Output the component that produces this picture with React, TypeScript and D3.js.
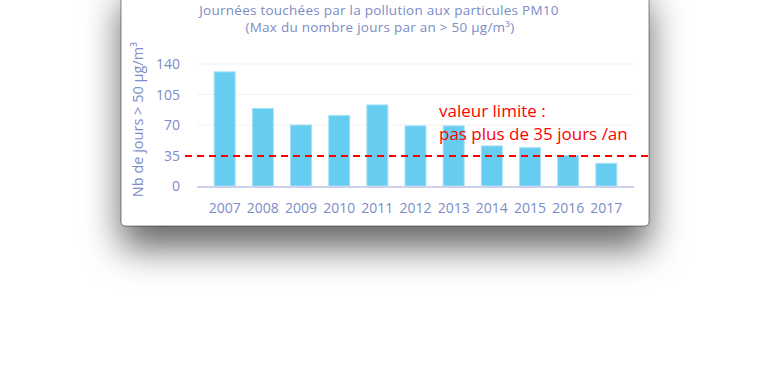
import React, { useEffect, useRef } from 'react';
import * as d3 from 'd3';

const years = ['2007', '2008', '2009', '2010', '2011', '2012', '2013', '2014', '2015', '2016', '2017'];
const days = [131, 89, 70, 81, 93, 69, 69, 46, 44, 35, 26];
const yTicks = [0, 35, 70, 105, 140];
const limit = 35;

const W = 780;
const H = 365;
const font = '"Open Sans", "Noto Sans", sans-serif';
const textColor = '#7b8cc7';

const App = () => {
  const ref = useRef<SVGSVGElement>(null);

  useEffect(() => {
    const svg = d3.select(ref.current);
    svg.selectAll('*').remove();

    const card = { left: 121, right: 649, top: -20, bottom: 226 };
    const plot = { left: 197, right: 634, top: 64, bottom: 186 };

    const defs = svg.append('defs');
    const f = defs.append('filter')
      .attr('id', 'shadow')
      .attr('x', '-30%').attr('y', '-30%')
      .attr('width', '160%').attr('height', '180%');
    f.append('feDropShadow')
      .attr('dx', 0).attr('dy', 22)
      .attr('stdDeviation', 18)
      .attr('flood-color', '#000')
      .attr('flood-opacity', 0.6);

    svg.append('rect')
      .attr('x', card.left)
      .attr('y', card.top)
      .attr('width', card.right - card.left)
      .attr('height', card.bottom - card.top)
      .attr('rx', 4)
      .attr('fill', '#fff')
      .attr('stroke', 'rgba(0,0,0,0.45)')
      .attr('stroke-width', 1)
      .attr('filter', 'url(#shadow)');

    const x = d3.scaleBand()
      .domain(years)
      .range([plot.left, plot.right])
      .padding(0.45);

    const y = d3.scaleLinear()
      .domain([0, 140])
      .range([plot.bottom, plot.top]);

    // titles
    svg.append('text')
      .attr('x', 379).attr('y', 15)
      .attr('text-anchor', 'middle')
      .style('font-family', font)
      .style('font-size', '13.5px')
      .style('letter-spacing', '0.25px')
      .attr('fill', textColor)
      .text('Journées touchées par la pollution aux particules PM10');

    svg.append('text')
      .attr('x', 380).attr('y', 32)
      .attr('text-anchor', 'middle')
      .style('font-family', font)
      .style('font-size', '13.5px')
      .style('letter-spacing', '0.25px')
      .attr('fill', textColor)
      .text('(Max du nombre jours par an > 50 µg/m³)');

    // grid
    svg.append('g')
      .selectAll('line')
      .data(yTicks.filter(t => t > 0))
      .enter()
      .append('line')
      .attr('x1', plot.left).attr('x2', plot.right)
      .attr('y1', d => y(d)).attr('y2', d => y(d))
      .attr('stroke', '#f2f2f4')
      .attr('stroke-width', 1);

    // y tick labels
    svg.append('g')
      .selectAll('text')
      .data(yTicks)
      .enter()
      .append('text')
      .attr('x', 180)
      .attr('y', d => y(d))
      .attr('dy', '0.36em')
      .attr('text-anchor', 'end')
      .style('font-family', font)
      .style('font-size', '14px')
      .attr('fill', textColor)
      .text(d => d);

    // y title
    svg.append('text')
      .attr('transform', `translate(143,${(42 + 197) / 2}) rotate(-90)`)
      .attr('text-anchor', 'middle')
      .style('font-family', font)
      .style('font-size', '14.5px')
      .attr('fill', textColor)
      .text('Nb de jours > 50 µg/m³');

    // bars
    svg.append('g')
      .selectAll('rect')
      .data(days)
      .enter()
      .append('rect')
      .attr('x', (d, i) => x(years[i]) as number)
      .attr('y', d => y(d))
      .attr('width', x.bandwidth())
      .attr('height', d => y(0) - y(d))
      .attr('fill', '#67cdf0')
      .attr('stroke', '#a6e1f6')
      .attr('stroke-width', 1);

    // x axis line
    svg.append('line')
      .attr('x1', plot.left).attr('x2', plot.right)
      .attr('y1', y(0) + 1).attr('y2', y(0) + 1)
      .attr('stroke', '#ccd2ec')
      .attr('stroke-width', 2);

    // x labels
    svg.append('g')
      .selectAll('text')
      .data(years)
      .enter()
      .append('text')
      .attr('x', d => (x(d) as number) + x.bandwidth() / 2)
      .attr('y', 213)
      .attr('text-anchor', 'middle')
      .style('font-family', font)
      .style('font-size', '14px')
      .attr('fill', textColor)
      .text(d => d);

    // limit line
    svg.append('line')
      .attr('x1', 185).attr('x2', 648)
      .attr('y1', y(limit) + 0.5).attr('y2', y(limit) + 0.5)
      .attr('stroke', '#ff0000')
      .attr('stroke-width', 2)
      .attr('stroke-dasharray', '7,5');

    const note = svg.append('text')
      .style('font-family', font)
      .style('font-size', '17px')
      .attr('fill', '#ff0000');
    note.append('tspan').attr('x', 439).attr('y', 117).text('valeur limite :');
    note.append('tspan').attr('x', 439).attr('y', 140).text('pas plus de 35 jours /an');
  }, []);

  return (
    <div style={{ position: 'absolute', left: 0, top: 0 }}>
      <svg ref={ref} width={W} height={H} style={{ display: 'block' }}></svg>
    </div>
  );
};

export default App;
